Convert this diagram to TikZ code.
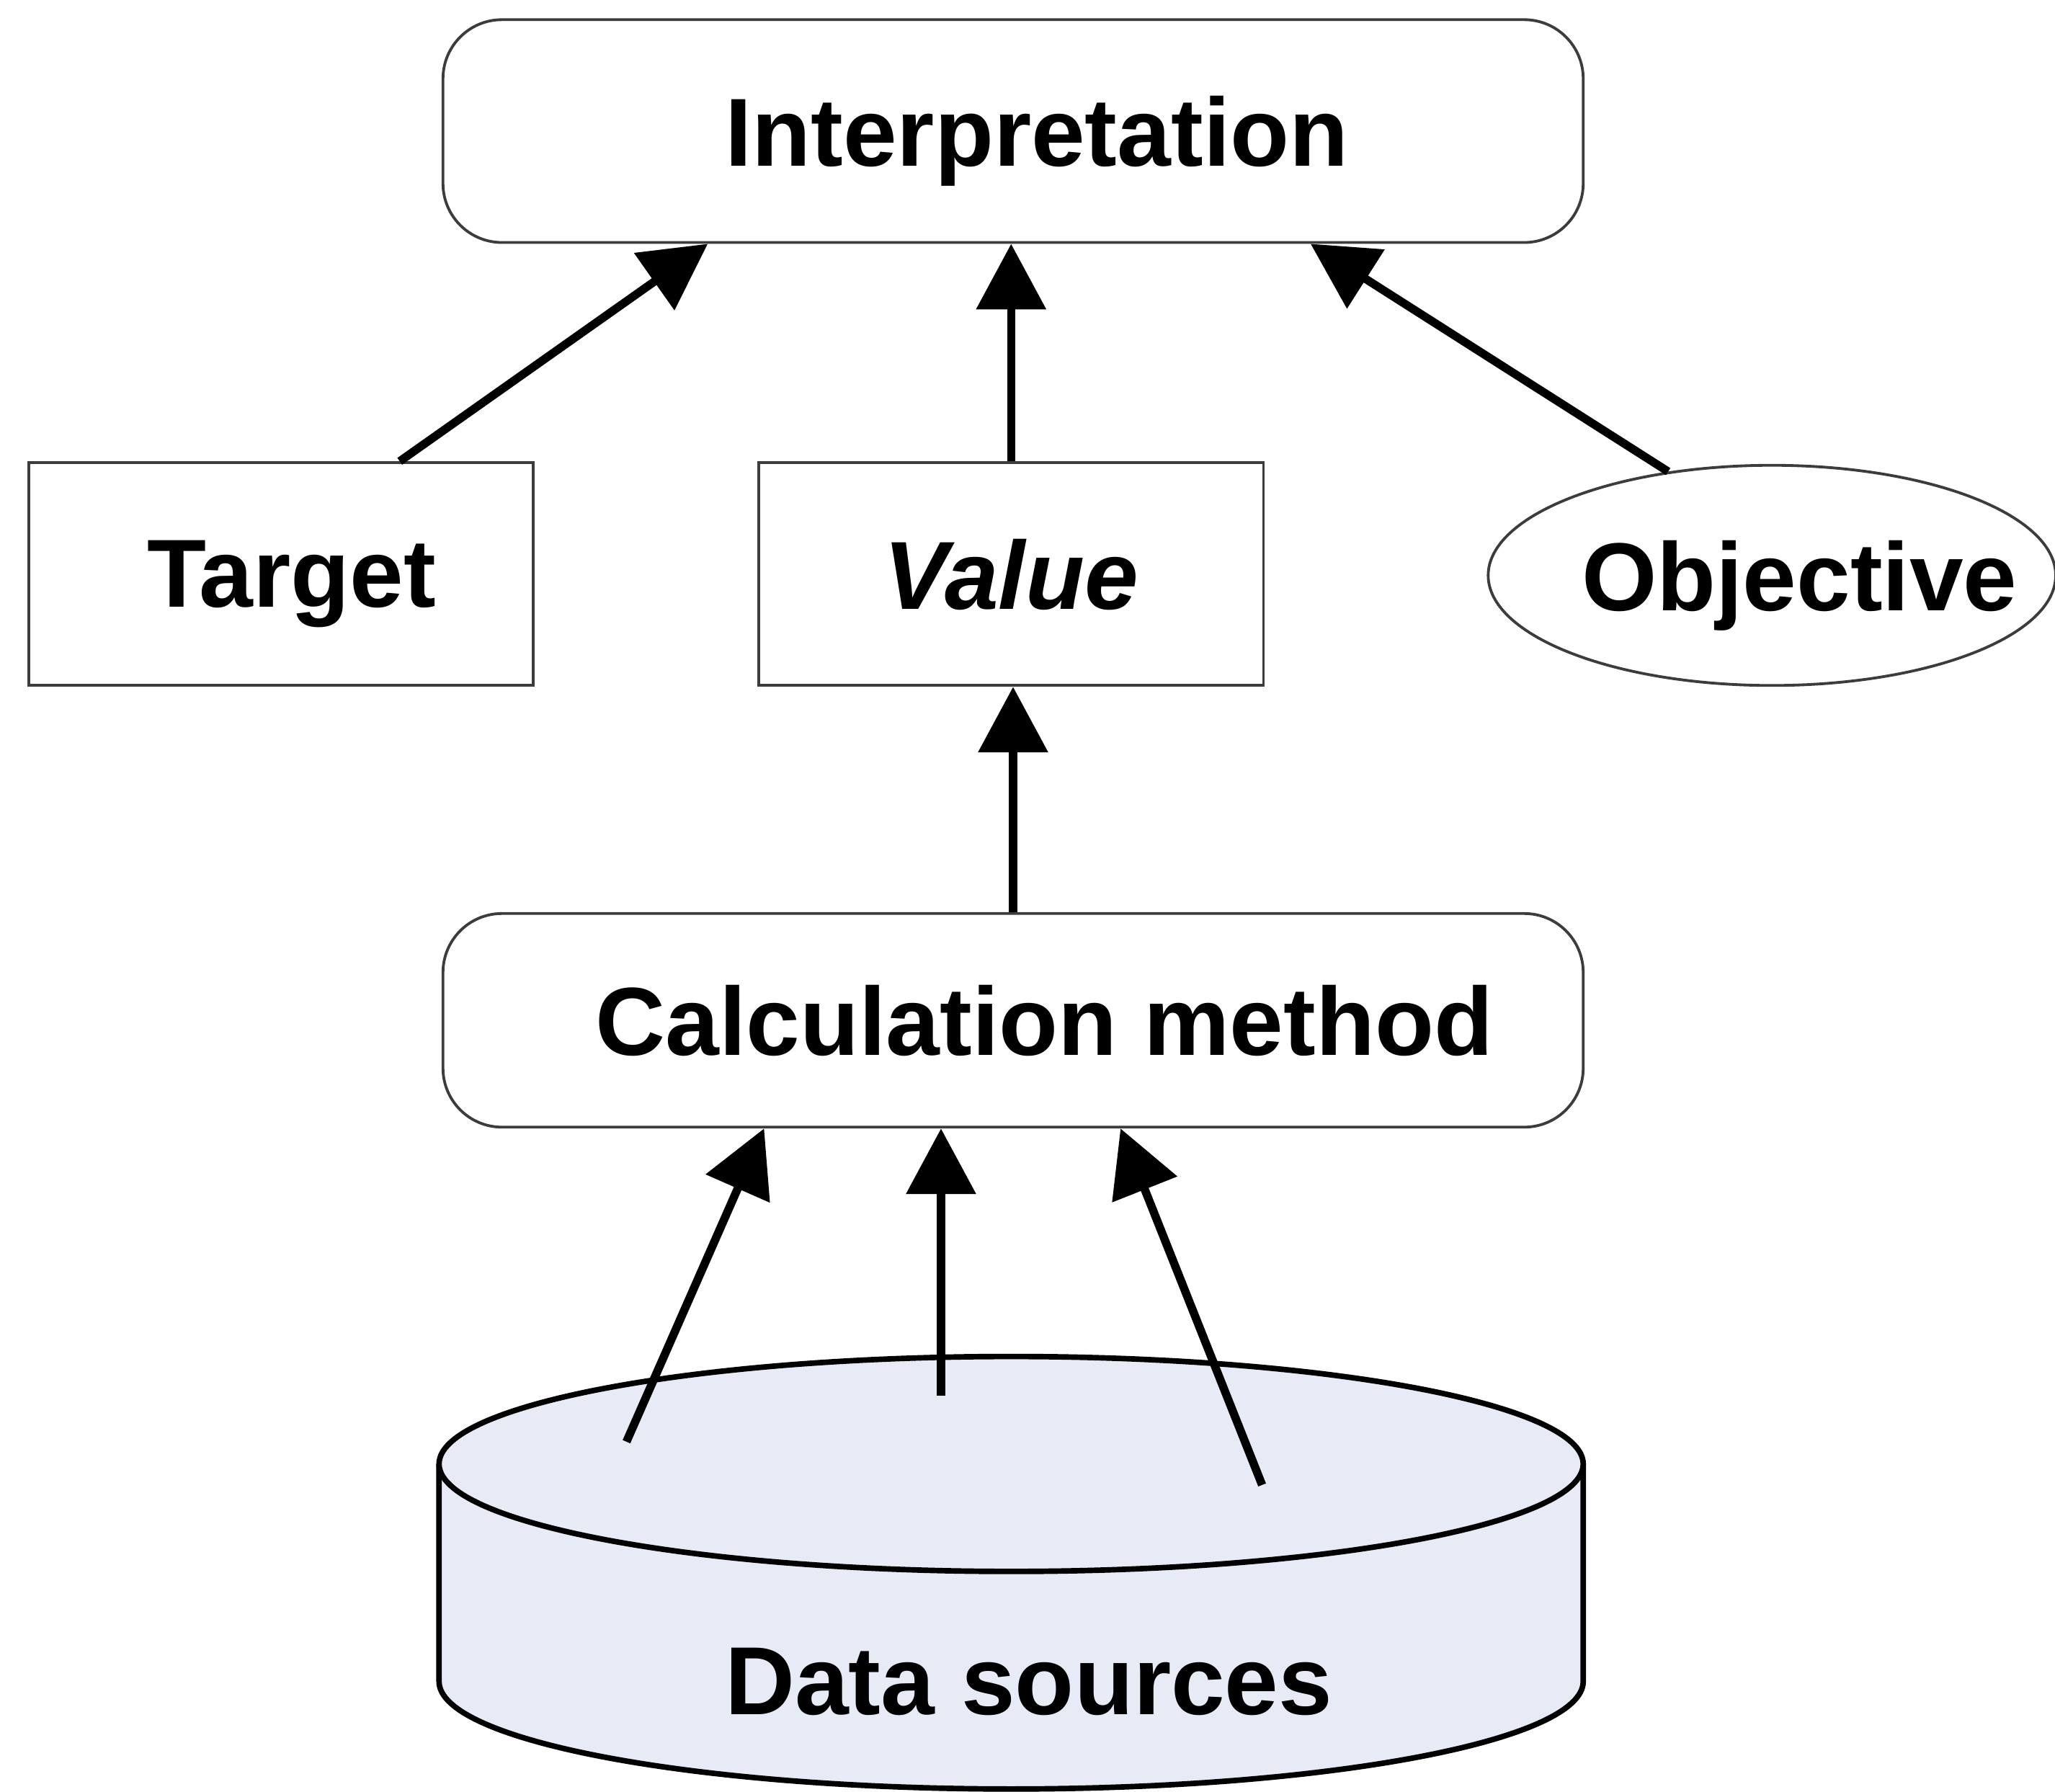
\documentclass[tikz,border=0pt]{standalone}
\usepackage{fontspec}
\setmainfont{Liberation Sans}
\usetikzlibrary{
    arrows.meta,
    shapes.geometric,
    positioning,
    calc
}
\definecolor{dbfill}{RGB}{230,235,246}
\definecolor{boxline}{RGB}{60,60,60}

\begin{document}
\begin{tikzpicture}[
        every node/.style={font=\fontsize{21}{24}\selectfont\bfseries, text depth=0pt},
        roundbox/.style={draw=boxline, line width=0.6pt, rounded corners=0.45cm, minimum width=8.7cm, minimum height=1.7cm},
        plainbox/.style={draw=boxline, line width=0.6pt, minimum width=3.85cm, minimum height=1.7cm},
        goal/.style={draw=boxline, line width=0.6pt, ellipse, minimum width=4.33cm, minimum height=1.68cm, inner sep=0pt},
        arrow/.style={-{Triangle[length=0.5cm,width=0.52cm]}, line width=1.8pt}
    ]
                        \useasboundingbox (0,0) rectangle (15.68,-13.67);
                        \node[roundbox] (interp) at (7.73, -1.00) {\hspace*{0.36cm}Interpretation};
                        \node[plainbox] (target) at (2.145, -4.38) {\hspace*{0.16cm}Target};
                        \node[plainbox] (value) at (7.715, -4.38) {\itshape Value};
                        \node[goal, label={[xshift=0.21cm]center:Objective}] (objective) at (13.52, -4.39) {};
                        \node[roundbox, minimum height=1.63cm] (calc) at (7.73, -7.785) {\hspace*{0.48cm}Calculation method};
                        % data sources drum
                        \coordinate (dbtop) at (7.715, -11.17);
                        \coordinate (dbbot) at (7.715, -12.83);
                        \draw[line width=1.2pt, fill=dbfill]
                        ($(dbtop)+(-4.365,0)$) -- ($(dbbot)+(-4.365,0)$)
                        arc[start angle=180, end angle=360, x radius=4.365, y radius=0.82]
                        -- ($(dbtop)+(4.365,0)$);
                        \draw[line width=1.2pt, fill=dbfill] (dbtop) ellipse [x radius=4.365, y radius=0.82];
                        \node (data) at (7.85, -12.83) {Data sources};
                        \coordinate (src1) at (4.78, -11.00);
                        \coordinate (src2) at (7.18, -10.65);
                        \coordinate (src3) at (9.63, -11.33);
                        \draw[arrow] ([xshift=0.905cm]target.north) -- ([xshift=-2.33cm]interp.south);
                        \draw[arrow] (value.north) -- (value.north |- interp.south);
                        \draw[arrow] (objective.135) -- ([xshift=2.27cm]interp.south);
                        \draw[arrow] (calc.north) -- (calc.north |- value.south);
                        \draw[arrow] (src1) -- ([xshift=-1.90cm]calc.south);
                        \draw[arrow] (src2) -- ([xshift=-0.55cm]calc.south);
                        \draw[arrow] (src3) -- ([xshift=0.82cm]calc.south);
                    \end{tikzpicture}
\end{document}
